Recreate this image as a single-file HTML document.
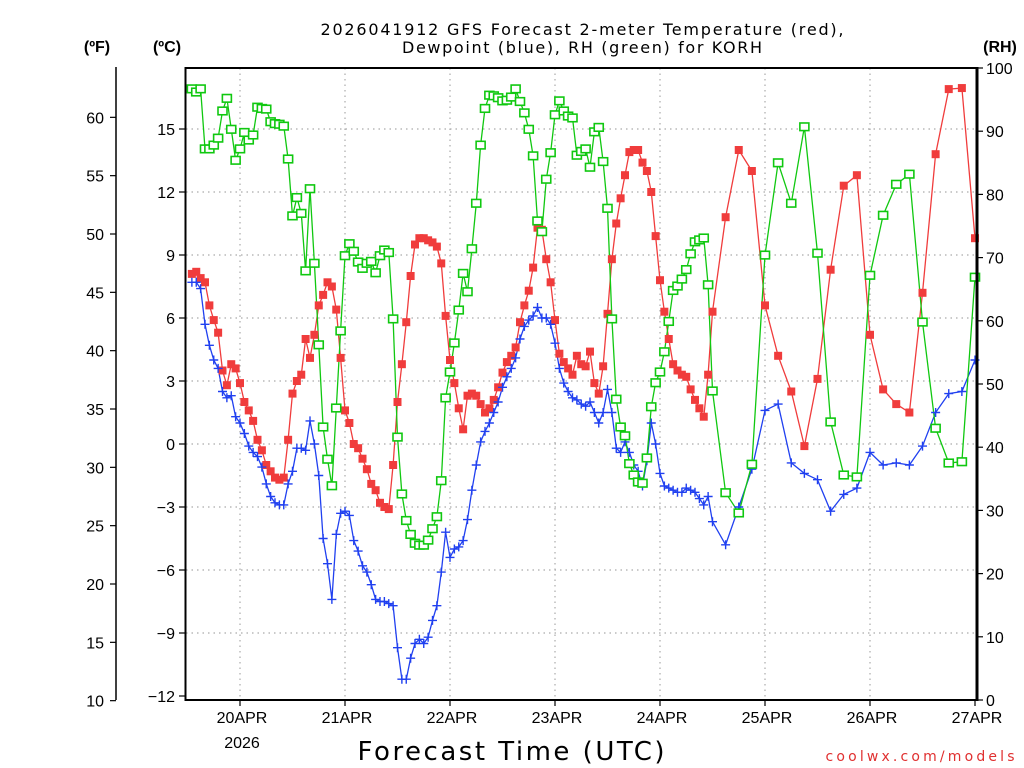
<!DOCTYPE html>
<html><head><meta charset="utf-8"><style>
html,body{margin:0;padding:0;background:#fff;}
svg{display:block;font-family:"Liberation Sans",sans-serif;}
.wide{font-family:"DejaVu Sans","Liberation Sans",sans-serif;}
</style></head><body>
<svg id="chart" width="1024" height="768" viewBox="0 0 1024 768">
<g id="grid"></g>
<g id="series"></g>
<rect x="185.5" y="68" width="791.5" height="632" fill="none" stroke="#000" stroke-width="2"/>
<line x1="977" y1="67" x2="977" y2="701" stroke="#000" stroke-width="3"/>
<line x1="116" y1="67" x2="116" y2="700" stroke="#000" stroke-width="1.5"/>
<g id="axes"></g>
<text class="wide" x="582" y="35" text-anchor="middle" font-size="16" textLength="523">2026041912 GFS Forecast 2-meter Temperature (red),</text>
<text class="wide" x="582" y="53" text-anchor="middle" font-size="16" textLength="360">Dewpoint (blue), RH (green) for KORH</text>
<text x="97" y="52" text-anchor="middle" font-size="16" font-weight="bold">(ºF)</text>
<text x="167" y="52" text-anchor="middle" font-size="16" font-weight="bold">(ºC)</text>
<text x="1000" y="52" text-anchor="middle" font-size="16" font-weight="bold">(RH)</text>
<text x="242" y="748" text-anchor="middle" font-size="16">2026</text>
<text class="wide" x="511" y="760" text-anchor="middle" font-size="26" textLength="307">Forecast Time (UTC)</text>
<text class="wide" x="920" y="761" text-anchor="middle" font-size="14" fill="#e03030" textLength="189">coolwx.com/models</text>
</svg>
<script>
const dayLabels = ["20APR","21APR","22APR","23APR","24APR","25APR","26APR","27APR"];
const cTicks = [15,12,9,6,3,0,-3,-6,-9,-12];
const cTickLabels = ["15","12","9","6","3","0","\u22123","\u22126","\u22129","\u221212"];
const fTicks = [60,55,50,45,40,35,30,25,20,15,10];
const rhTicks = [100,90,80,70,60,50,40,30,20,10,0];
// hours relative to 20APR 00Z: hourly -11..107, then 3-hourly 108..168
const hours = [];
for (let h = -11; h <= 107; h++) hours.push(h);
for (let h = 108; h <= 168; h += 3) hours.push(h);
const tempC = [8.1,8.2,7.9,7.7,6.6,5.9,5.3,3.5,2.8,3.8,3.6,2.9,2.0,1.6,1.1,0.2,-0.3,-1.0,-1.3,-1.6,-1.7,-1.6,0.2,2.4,3.0,3.3,5.0,4.1,5.2,6.6,7.1,7.7,7.5,6.4,4.1,1.6,1.0,0.0,-0.2,-0.7,-1.2,-1.9,-2.2,-2.8,-3.0,
-3.1,-1.0,2.0,3.8,5.8,8.0,9.5,9.8,9.8,9.7,9.6,9.4,8.6,6.1,4.0,2.9,1.7,0.7,2.3,2.4,2.3,1.9,1.5,1.7,2.1,2.7,3.4,3.9,4.2,4.6,5.8,6.6,7.3,8.4,10.3,10.2,8.8,7.7,5.9,4.3,3.9,3.6,3.3,4.2,
3.8,3.7,4.4,2.9,2.4,3.7,6.2,8.8,10.5,11.7,12.8,13.9,14.0,14.0,13.4,13.0,12.0,9.9,7.8,6.3,5.0,3.8,3.5,3.3,3.2,2.6,2.1,1.7,1.3,3.3,
6.3,10.8,14.0,13.0,6.6,4.2,2.5,-0.1,3.1,8.3,12.3,12.8,5.2,2.6,1.9,1.5,7.2,13.8,16.9,16.95,9.8];
const dewC = [7.7,7.7,7.4,5.7,4.7,4.0,3.6,2.5,2.2,2.3,1.3,1.0,0.5,-0.1,-0.4,-0.6,-1.1,-1.9,-2.5,-2.8,-2.9,-2.9,-1.9,-1.3,-0.2,-0.2,-0.3,1.1,0.0,-1.5,-4.5,-5.7,-7.4,-4.3,-3.3,-3.2,-3.4,-4.6,-5.1,-5.8,-6.1,-6.7,-7.4,-7.5,-7.5,
-7.6,-7.7,-9.7,-11.2,-11.2,-10.2,-9.5,-9.3,-9.5,-9.2,-8.4,-7.7,-6.1,-4.2,-5.4,-5.0,-4.9,-4.6,-3.6,-2.2,-1.0,0.1,0.6,1.0,1.5,2.0,2.7,3.2,3.6,4.1,5.0,5.6,5.9,6.1,6.5,6.0,6.0,5.7,4.8,3.6,2.9,2.5,2.2,2.1,
1.9,1.8,2.0,1.5,1.0,1.5,2.6,1.5,-0.2,-0.4,0.1,-0.4,-1.0,-1.3,-2.0,-0.8,1.0,0.0,-1.4,-2.0,-2.1,-2.2,-2.3,-2.3,-2.1,-2.2,-2.3,-2.6,-2.9,-2.5,
-3.7,-4.8,-3.0,-1.2,1.6,1.9,-0.9,-1.4,-1.7,-3.2,-2.4,-2.1,-0.4,-1.0,-0.9,-1.0,-0.1,1.5,2.4,2.5,4.0];
const rh = [96.7,96.2,96.7,87.2,87.2,87.8,88.9,93.2,95.2,90.3,85.4,87.2,89.8,88.6,89.4,93.8,93.6,93.5,91.5,91.2,91.1,90.8,85.6,76.6,79.5,77.0,67.9,80.9,69.1,56.2,43.2,38.1,33.9,46.2,58.4,70.3,72.2,71.0,69.3,68.3,69.1,69.4,67.6,70.3,71.2,
70.8,60.3,41.6,32.6,28.4,26.2,24.8,24.5,24.5,25.3,27.1,29.0,34.7,47.8,51.9,56.5,61.7,67.5,64.6,71.4,78.6,87.8,93.6,95.7,95.6,95.3,94.8,94.9,95.4,96.7,94.7,92.9,90.3,86.1,75.8,74.1,82.4,86.6,92.6,94.8,93.2,92.4,92.1,86.2,
86.8,87.2,84.3,89.9,90.6,85.2,77.8,60.3,47.6,43.2,41.8,37.4,35.6,34.5,34.3,38.3,46.4,50.2,51.9,55.1,59.9,64.8,65.5,66.6,68.1,70.6,72.5,72.8,73.1,65.7,
48.9,32.8,29.6,37.3,70.4,85.0,78.6,90.7,70.7,44.0,35.6,35.3,67.2,76.7,81.6,83.2,59.8,43.0,37.5,37.7,66.9];

const NS = "http://www.w3.org/2000/svg";
const xS = h => 240 + h * 4.375;
const yC = c => 444 - 21 * c;
const yF = f => yC((f - 32) * 5 / 9);
const yR = r => 700 - 6.32 * r;
function mk(tag, attrs, parent) {
  const el = document.createElementNS(NS, tag);
  for (const k in attrs) el.setAttribute(k, attrs[k]);
  parent.appendChild(el);
  return el;
}
const grid = document.getElementById('grid');
const axes = document.getElementById('axes');
const series = document.getElementById('series');

dayLabels.forEach((d, i) => {
  const x = xS(i * 24);
  if (i < dayLabels.length - 1) {
    const g = mk('line', {x1: x, y1: 68, x2: x, y2: 700, stroke: '#aaa', 'stroke-width': 1.2, 'stroke-dasharray': '1.5 4'}, grid);
    
    
  }
  const t = mk('line', {x1: x, y1: 700, x2: x, y2: 706, stroke: '#000', 'stroke-width': 1.2}, axes);
  
  
  const lb = mk('text', {x: x + 2, y: 723, 'text-anchor': 'middle', 'font-size': 16}, axes);
  lb.textContent = d;
  
  
});
cTicks.forEach((c, i) => {
  const y = yC(c);
  if (c > -12) {
    const g = mk('line', {x1: 186, y1: y, x2: 976, y2: y, stroke: '#aaa', 'stroke-width': 1.2, 'stroke-dasharray': '1.5 4'}, grid);
    
    
  }
  const t = mk('line', {x1: 179, y1: y, x2: 185, y2: y, stroke: '#000', 'stroke-width': 1.2}, axes);
  
  
  const lb = mk('text', {x: 175, y: y + 6, 'text-anchor': 'end', 'font-size': 16}, axes);
  lb.textContent = cTickLabels[i];
  
  
});
fTicks.forEach(f => {
  const y = yF(f);
  const t = mk('line', {x1: 110, y1: y, x2: 116, y2: y, stroke: '#000', 'stroke-width': 1.2}, axes);
  
  
  const lb = mk('text', {x: 104, y: y + 6, 'text-anchor': 'end', 'font-size': 16}, axes);
  lb.textContent = String(f);
  
  
});
rhTicks.forEach(r => {
  const y = yR(r);
  const t = mk('line', {x1: 977, y1: y, x2: 983, y2: y, stroke: '#000', 'stroke-width': 1.2}, axes);
  
  
  const lb = mk('text', {x: 986, y: y + 6, 'text-anchor': 'start', 'font-size': 16}, axes);
  lb.textContent = String(r);
  
  
});

function drawLine(vals, yfn, color, name) {
  const pts = vals.map((v, i) => xS(hours[i]).toFixed(1) + ',' + yfn(v).toFixed(1)).join(' ');
  const pl = mk('polyline', {points: pts, fill: 'none', stroke: color, 'stroke-width': 1.3}, series);
  
  
}
drawLine(tempC, yC, '#f03c3c', 'temperature-line');
drawLine(dewC, yC, '#2040f0', 'dewpoint-line');
drawLine(rh, yR, '#10c810', 'rh-line');

tempC.forEach((v, i) => {
  const x = xS(hours[i]), y = yC(v);
  const m = mk('rect', {x: x - 4, y: y - 4, width: 8, height: 8, fill: '#f03c3c'}, series);
  
  
});
dewC.forEach((v, i) => {
  const x = xS(hours[i]), y = yC(v);
  const m = mk('path', {d: `M${x-4.5},${y}H${x+4.5}M${x},${y-4.5}V${y+4.5}`, stroke: '#2040f0', 'stroke-width': 1.4, fill: 'none'}, series);
  
  
});
rh.forEach((v, i) => {
  const x = xS(hours[i]), y = yR(v);
  const m = mk('rect', {x: x - 4.5, y: y - 3.8, width: 9, height: 7.6, fill: '#fff', stroke: '#10c810', 'stroke-width': 1.6}, series);
  
  
});
</script>
</body></html>
